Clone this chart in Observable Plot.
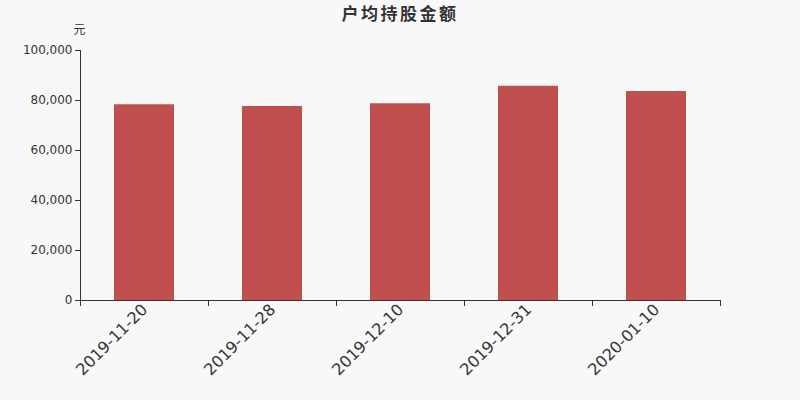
<!DOCTYPE html>
<html>
<head>
<meta charset="utf-8">
<script src="https://cdn.jsdelivr.net/npm/d3@7"></script>
<script src="https://cdn.jsdelivr.net/npm/@observablehq/plot@0.6"></script>
<style>
  html, body { margin: 0; padding: 0; background: #f8f8f8; }
  #wrap { position: relative; width: 800px; height: 400px; background: #f8f8f8; }
  #title { position: absolute; top: 0px; left: 0; width: 800px; text-align: center;
           font-family: "Noto Sans CJK SC", sans-serif; font-weight: bold; font-size: 17px;
           letter-spacing: 2.5px; color: #333; }
</style>
</head>
<body>
<div id="wrap"><div id="title">户均持股金额</div></div>
<script>
const categories = ["2019-11-20", "2019-11-28", "2019-12-10", "2019-12-31", "2020-01-10"];
const values = [78300, 77600, 78700, 85700, 83600];
const yTicks = [0, 20000, 40000, 60000, 80000, 100000];
const unitLabel = "元";

const data = categories.map((c, i) => ({ cat: c, idx: i, value: values[i] }));
const fmt = d3.format(",");

const chart = Plot.plot({
  width: 800,
  height: 400,
  marginTop: 50,
  marginBottom: 100,
  marginLeft: 80,
  marginRight: 80,
  style: { background: "#f8f8f8", fontFamily: "DejaVu Sans, sans-serif", fontSize: "12px", color: "#333" },
  x: { type: "linear", domain: [0, categories.length] },
  y: { domain: [0, 100000] },
  marks: [
    Plot.rectY(data, { x1: d => d.idx, x2: d => d.idx + 1, y: "value", fill: "#c0504e", insetLeft: 34, insetRight: 34 }),
    Plot.axisY({ ticks: yTicks, tickFormat: fmt, tickSize: 5, tickPadding: 3, label: null, stroke: "#333", fill: "#333", fontSize: 12 }),
    Plot.axisX({ ticks: d3.range(categories.length + 1), tickFormat: () => "", tickSize: 6, label: null, stroke: "#333" }),
    Plot.ruleX([0], { stroke: "#333" }),
    Plot.ruleY([0], { stroke: "#333" }),
    Plot.text(data, { x: d => d.idx + 0.5, frameAnchor: "bottom", text: "cat", rotate: -45, textAnchor: "end", dx: 4, dy: 10, fontSize: 16, fill: "#333" }),
    Plot.text([unitLabel], { frameAnchor: "top-left", textAnchor: "middle", dy: -25, dx: -1, fontSize: 12, fill: "#333", fontFamily: "Noto Sans CJK SC" })
  ]
});
document.getElementById("wrap").appendChild(chart);
</script>
</body>
</html>
